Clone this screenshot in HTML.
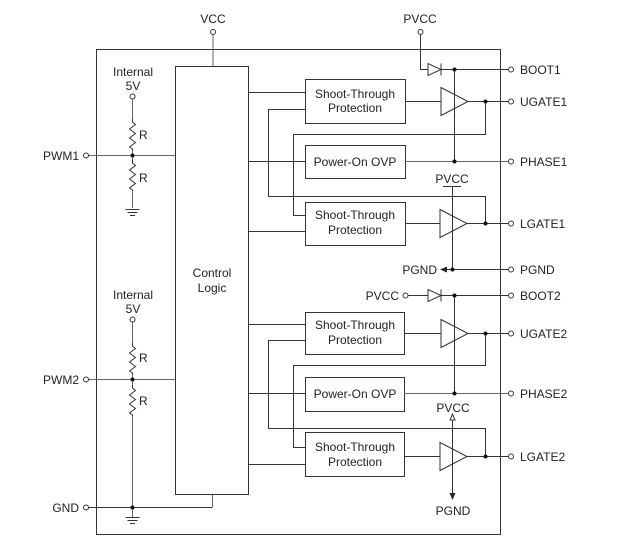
<!DOCTYPE html>
<html><head><meta charset="utf-8"><style>
html,body{margin:0;padding:0;background:#fff}
svg{display:block}
text{font-family:"Liberation Sans",Arial,sans-serif;font-size:12px;fill:#222}
</style></head><body>
<svg width="640" height="552" viewBox="0 0 640 552" xmlns="http://www.w3.org/2000/svg">
<defs>
<g id="res"><polyline points="0,0 0,3 3,5.5 -3,10 3,14.5 -3,19 3,23.5 -3,28 0,30 0,31" fill="none" stroke="#333" stroke-width="1"/></g>
<g id="gnd" stroke="#333" stroke-width="1"><line x1="-7" y1="0" x2="7" y2="0"/><line x1="-5" y1="3" x2="5" y2="3"/><line x1="-2.5" y1="6" x2="2.5" y2="6"/></g>
<g id="diode" stroke="#333" fill="#fff" stroke-width="1"><polygon points="0,-6 0,6 13,0"/><line x1="13" y1="-6" x2="13" y2="6"/></g>
<g id="buf"><polygon points="0,-14 0,14 27,0" fill="#fff" stroke="#333" stroke-width="1"/></g>
</defs>
<g fill="none" stroke="#333" stroke-width="1">
<rect x="96.5" y="49.5" width="404" height="485"/>
<rect x="175.5" y="66.5" width="73" height="428"/>
<!-- VCC -->
<line x1="213" y1="35" x2="213" y2="66" stroke="#666"/>
<!-- PWM1 -->
<line x1="89" y1="155.5" x2="175" y2="155.5" stroke="#666"/>
<line x1="132.5" y1="99" x2="132.5" y2="120" stroke="#666"/>
<line x1="132.5" y1="150" x2="132.5" y2="160" stroke="#666"/>
<line x1="132.5" y1="190" x2="132.5" y2="208" stroke="#666"/>
<!-- PWM2 -->
<line x1="89" y1="379.5" x2="175" y2="379.5" stroke="#666"/>
<line x1="132.5" y1="322" x2="132.5" y2="344" stroke="#666"/>
<line x1="132.5" y1="374" x2="132.5" y2="386" stroke="#666"/>
<line x1="132.5" y1="416" x2="132.5" y2="517" stroke="#666"/>
<line x1="89" y1="507.5" x2="212" y2="507.5"/>
<polyline points="212.5,507.5 212.5,495" stroke="#666"/>
<!-- Control lines -->
<line x1="248" y1="92.5" x2="305" y2="92.5"/>
<line x1="248" y1="161.5" x2="305" y2="161.5"/>
<line x1="248" y1="231.5" x2="305" y2="231.5"/>
<line x1="248" y1="324.5" x2="305" y2="324.5"/>
<line x1="248" y1="393.5" x2="305" y2="393.5"/>
<line x1="248" y1="464.5" x2="305" y2="464.5"/>
<!-- Boxes -->
<rect x="305.5" y="79.5" width="100" height="44"/>
<rect x="305.5" y="145.5" width="100" height="33"/>
<rect x="305.5" y="202.5" width="100" height="43"/>
<rect x="305.5" y="312.5" width="99" height="42"/>
<rect x="305.5" y="377.5" width="99" height="34"/>
<rect x="305.5" y="432.5" width="99" height="44"/>
<!-- Channel 1 wiring -->
<polyline points="305,109.5 268.5,109.5 268.5,196.5 485.5,196.5 485.5,223.5"/>
<polyline points="305,215.5 293.5,215.5 293.5,134.5 485.5,134.5 485.5,101.5"/>
<polyline points="420.5,35 420.5,69.5 428,69.5"/>
<line x1="441" y1="69.5" x2="508" y2="69.5"/>
<line x1="454.5" y1="69.5" x2="454.5" y2="161.5"/>
<line x1="405" y1="101.5" x2="441" y2="101.5"/>
<line x1="468" y1="101.5" x2="508" y2="101.5"/>
<line x1="405" y1="161.5" x2="508" y2="161.5" stroke="#666"/>
<line x1="443" y1="186.5" x2="461" y2="186.5"/>
<line x1="452.5" y1="186.5" x2="452.5" y2="269.5"/>
<line x1="405" y1="223.5" x2="440" y2="223.5"/>
<line x1="466" y1="223.5" x2="508" y2="223.5"/>
<line x1="446" y1="269.5" x2="508" y2="269.5"/>
<!-- Channel 2 wiring -->
<polyline points="305,340.5 268.5,340.5 268.5,428.5 485.5,428.5 485.5,456.5"/>
<polyline points="305,447.5 293.5,447.5 293.5,365.5 485.5,365.5 485.5,333.5"/>
<line x1="408" y1="295.5" x2="428" y2="295.5"/>
<line x1="441" y1="295.5" x2="508" y2="295.5"/>
<line x1="454.5" y1="295.5" x2="454.5" y2="393.5"/>
<line x1="404" y1="333.5" x2="441" y2="333.5"/>
<line x1="468" y1="333.5" x2="508" y2="333.5"/>
<line x1="404" y1="393.5" x2="508" y2="393.5" stroke="#666"/>
<line x1="452.5" y1="420" x2="452.5" y2="494"/>
<line x1="404" y1="456.5" x2="440" y2="456.5"/>
<line x1="466" y1="456.5" x2="508" y2="456.5"/>
</g>
<!-- resistors & grounds -->
<use href="#res" x="132.5" y="119"/><use href="#res" x="132.5" y="160"/>
<use href="#gnd" x="132.5" y="209.5"/>
<use href="#res" x="132.5" y="343"/><use href="#res" x="132.5" y="385"/>
<use href="#gnd" x="132.5" y="517.5"/>
<use href="#diode" x="428" y="69.5"/><use href="#diode" x="428" y="295.5"/>
<use href="#buf" x="441" y="101.5"/><use href="#buf" x="440" y="223.5"/>
<use href="#buf" x="441" y="333.5"/><use href="#buf" x="440" y="456.5"/>
<!-- redraw vertical lines through buffers -->
<g stroke="#333" stroke-width="1">
<line x1="454.5" y1="88" x2="454.5" y2="115"/>
<line x1="452.5" y1="210" x2="452.5" y2="237"/>
<line x1="454.5" y1="320" x2="454.5" y2="347"/>
<line x1="452.5" y1="443" x2="452.5" y2="470"/>
</g>
<!-- arrows -->
<polygon points="440,269.5 447,266.5 447,272.5" fill="#222"/>
<polygon points="452.5,500 449.5,493 455.5,493" fill="#222"/>
<polygon points="452.5,414 450,420 455,420" fill="#fff" stroke="#333"/>
<!-- dots -->
<g fill="#111">
<circle cx="132.5" cy="155.5" r="2"/><circle cx="132.5" cy="379.5" r="2"/><circle cx="132.5" cy="507.5" r="2"/>
<circle cx="454.5" cy="69.5" r="2"/><circle cx="485.5" cy="101.5" r="2"/><circle cx="454.5" cy="161.5" r="2"/>
<circle cx="485.5" cy="223.5" r="2"/><circle cx="452.5" cy="269.5" r="2"/>
<circle cx="454.5" cy="295.5" r="2"/><circle cx="485.5" cy="333.5" r="2"/><circle cx="454.5" cy="393.5" r="2"/>
<circle cx="485.5" cy="456.5" r="2"/>
</g>
<!-- pin circles -->
<g fill="#fff" stroke="#333" stroke-width="1">
<circle cx="213" cy="32" r="2.5"/><circle cx="420.5" cy="32" r="2.5"/>
<circle cx="86" cy="155.5" r="2.5"/><circle cx="86" cy="379.5" r="2.5"/><circle cx="86" cy="507.5" r="2.5"/>
<circle cx="132.5" cy="96.5" r="2.5"/><circle cx="132.5" cy="319.5" r="2.5"/>
<circle cx="405.5" cy="295.5" r="2.5"/>
<circle cx="511" cy="69.5" r="2.5"/><circle cx="511" cy="101.5" r="2.5"/><circle cx="511" cy="161.5" r="2.5"/>
<circle cx="511" cy="223.5" r="2.5"/><circle cx="511" cy="269.5" r="2.5"/>
<circle cx="511" cy="295.5" r="2.5"/><circle cx="511" cy="333.5" r="2.5"/><circle cx="511" cy="393.5" r="2.5"/>
<circle cx="511" cy="456.5" r="2.5"/>
</g>
<!-- text -->
<text x="213" y="23" text-anchor="middle">VCC</text>
<text x="420" y="23" text-anchor="middle">PVCC</text>
<text x="133" y="76" text-anchor="middle">Internal</text>
<text x="133" y="90" text-anchor="middle">5V</text>
<text x="133" y="299" text-anchor="middle">Internal</text>
<text x="133" y="313" text-anchor="middle">5V</text>
<text x="139" y="139">R</text><text x="139" y="182">R</text>
<text x="139" y="362">R</text><text x="139" y="405">R</text>
<text x="79" y="160" text-anchor="end">PWM1</text>
<text x="79" y="384" text-anchor="end">PWM2</text>
<text x="79" y="512" text-anchor="end">GND</text>
<text x="212" y="277" text-anchor="middle">Control</text>
<text x="212" y="292" text-anchor="middle">Logic</text>
<text x="355" y="98" text-anchor="middle">Shoot-Through</text>
<text x="355" y="112" text-anchor="middle">Protection</text>
<text x="355" y="166" text-anchor="middle">Power-On OVP</text>
<text x="355" y="219" text-anchor="middle">Shoot-Through</text>
<text x="355" y="234" text-anchor="middle">Protection</text>
<text x="355" y="329" text-anchor="middle">Shoot-Through</text>
<text x="355" y="344" text-anchor="middle">Protection</text>
<text x="355" y="398" text-anchor="middle">Power-On OVP</text>
<text x="355" y="451" text-anchor="middle">Shoot-Through</text>
<text x="355" y="466" text-anchor="middle">Protection</text>
<text x="452" y="183" text-anchor="middle">PVCC</text>
<text x="437" y="274" text-anchor="end">PGND</text>
<text x="399" y="300" text-anchor="end">PVCC</text>
<text x="453" y="412" text-anchor="middle">PVCC</text>
<text x="453" y="515" text-anchor="middle">PGND</text>
<text x="520" y="74">BOOT1</text>
<text x="520" y="106">UGATE1</text>
<text x="520" y="166">PHASE1</text>
<text x="520" y="228">LGATE1</text>
<text x="520" y="274">PGND</text>
<text x="520" y="300">BOOT2</text>
<text x="520" y="338">UGATE2</text>
<text x="520" y="398">PHASE2</text>
<text x="520" y="461">LGATE2</text>
</svg>
</body></html>
